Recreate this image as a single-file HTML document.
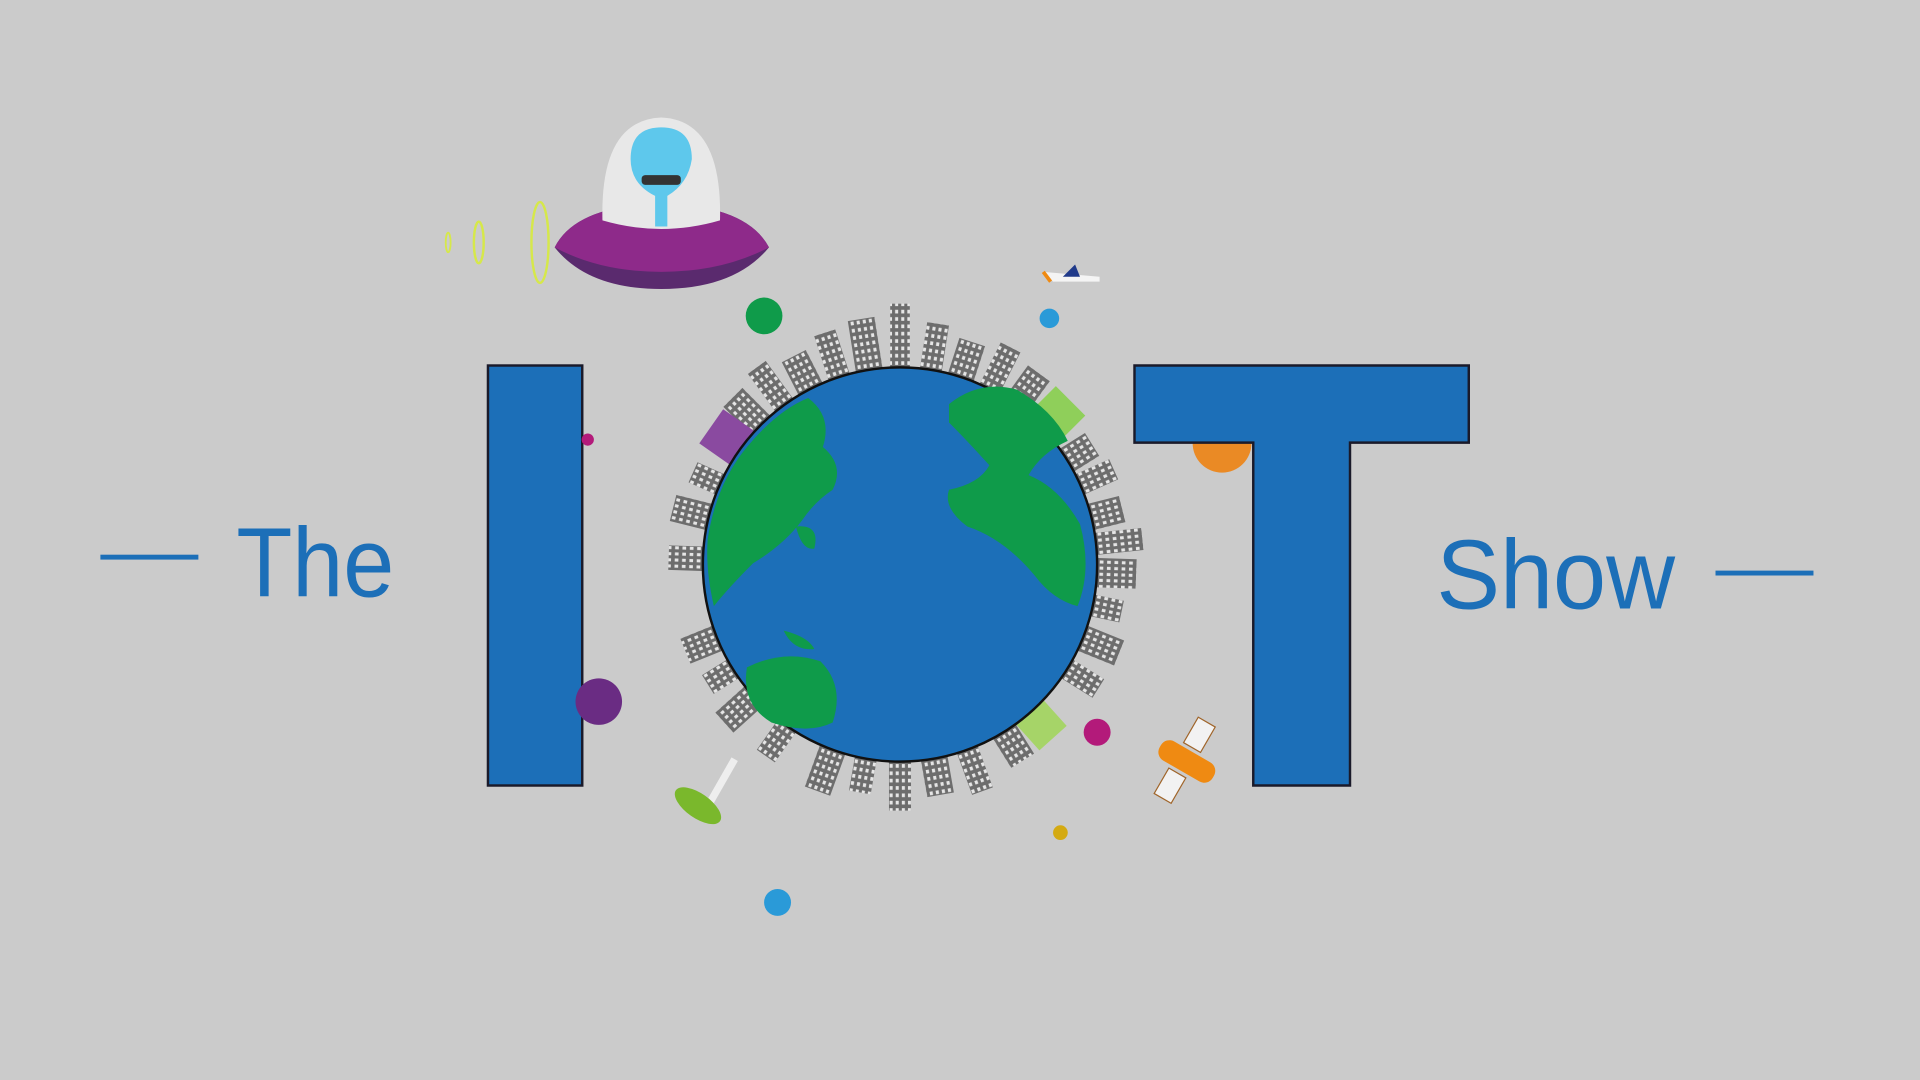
<!DOCTYPE html>
<html><head><meta charset="utf-8"><style>
html,body{margin:0;padding:0;background:#cbcbcb;width:1920px;height:1080px;overflow:hidden}
svg{display:block}
</style></head><body>
<svg width="1920" height="1080" viewBox="0 0 1568 882" preserveAspectRatio="none" xmlns="http://www.w3.org/2000/svg">
<defs>
<pattern id="win" width="5" height="6" patternUnits="userSpaceOnUse">
<rect width="5" height="6" fill="#6d6d6d"/>
<rect x="1" y="1" width="2.5" height="3" fill="#e6e6e6"/>
</pattern>
</defs>
<rect width="1568" height="882" fill="#cbcbcb"/>
<rect x="82" y="453" width="80" height="4" fill="#1c6fb8"/>
<text x="193" y="487" font-family="Liberation Sans, sans-serif" font-size="80" fill="#1c6fb8" textLength="129" lengthAdjust="spacingAndGlyphs">The</text>
<text x="1173" y="497" font-family="Liberation Sans, sans-serif" font-size="80" fill="#1c6fb8" textLength="195" lengthAdjust="spacingAndGlyphs">Show</text>
<rect x="1401" y="466" width="80" height="4" fill="#1c6fb8"/>
<circle cx="998" cy="362" r="24" fill="#ea8a25"/>
<rect x="398.5" y="298.5" width="77" height="343" fill="#1c6fb8" stroke="#1a1a2a" stroke-width="2"/>
<path d="M926.5 298.5H1199.5V361.5H1102.5V641.5H1023.5V361.5H926.5Z" fill="#1c6fb8" stroke="#1a1a2a" stroke-width="2"/>
<circle cx="624" cy="258" r="15" fill="#0f9b4a"/>
<circle cx="857" cy="260" r="8" fill="#2a9ad8"/>
<circle cx="480" cy="359" r="5" fill="#b31a7a"/>
<circle cx="489" cy="573" r="19" fill="#6a2c83"/>
<circle cx="896" cy="598" r="11" fill="#b31a7a"/>
<circle cx="866" cy="680" r="6" fill="#d4aa12"/>
<circle cx="635" cy="737" r="11" fill="#2a9ad8"/>
<g fill="url(#win)">
<rect x="727" y="248" width="16" height="57" transform="rotate(0 735 461)"/>
<rect x="724" y="258" width="22" height="45" transform="rotate(-9 735 461)"/>
<rect x="726" y="262" width="18" height="40" transform="rotate(-18 735 461)"/>
<rect x="724" y="270" width="22" height="32" transform="rotate(-27 735 461)"/>
<rect x="726" y="262" width="18" height="40" transform="rotate(-36 735 461)"/>
<rect x="724" y="268" width="22" height="34" transform="rotate(-45 735 461)"/>
<rect x="726" y="276" width="18" height="26" transform="rotate(-66 735 461)"/>
<rect x="724" y="270" width="22" height="32" transform="rotate(-76 735 461)"/>
<rect x="724" y="272" width="20" height="30" transform="rotate(-88 735 461)"/>
<rect x="724" y="272" width="22" height="30" transform="rotate(-112 735 461)"/>
<rect x="726" y="276" width="18" height="26" transform="rotate(-122 735 461)"/>
<rect x="724" y="268" width="22" height="34" transform="rotate(-132 735 461)"/>
<rect x="726" y="270" width="18" height="32" transform="rotate(-145 735 461)"/>
<rect x="724" y="264" width="22" height="38" transform="rotate(-160 735 461)"/>
<rect x="726" y="272" width="18" height="30" transform="rotate(-170 735 461)"/>
<rect x="726" y="260" width="18" height="42" transform="rotate(180 735 461)"/>
<rect x="724" y="270" width="22" height="32" transform="rotate(170 735 461)"/>
<rect x="726" y="264" width="18" height="38" transform="rotate(160 735 461)"/>
<rect x="724" y="272" width="22" height="30" transform="rotate(148 735 461)"/>
<rect x="726" y="270" width="18" height="32" transform="rotate(122 735 461)"/>
<rect x="724" y="268" width="22" height="34" transform="rotate(112 735 461)"/>
<rect x="726" y="276" width="18" height="26" transform="rotate(102 735 461)"/>
<rect x="724" y="268" width="24" height="34" transform="rotate(92 735 461)"/>
<rect x="726" y="262" width="18" height="40" transform="rotate(84 735 461)"/>
<rect x="724" y="274" width="22" height="28" transform="rotate(76 735 461)"/>
<rect x="726" y="270" width="18" height="32" transform="rotate(66 735 461)"/>
<rect x="724" y="276" width="22" height="26" transform="rotate(58 735 461)"/>
<rect x="726" y="262" width="18" height="40" transform="rotate(27 735 461)"/>
<rect x="724" y="270" width="22" height="32" transform="rotate(18 735 461)"/>
<rect x="726" y="262" width="18" height="40" transform="rotate(9 735 461)"/>
<rect x="724" y="268" width="22" height="34" transform="rotate(36 735 461)"/>
</g>
<rect x="722" y="268" width="34" height="36" fill="#8fcf5a" transform="rotate(45 735 461)"/>
<rect x="722" y="270" width="34" height="34" fill="#8a4aa0" transform="rotate(-55 735 461)"/>
<rect x="722" y="272" width="30" height="32" fill="#a6d468" transform="rotate(138 735 461)"/>
<circle cx="735" cy="461" r="161" fill="#1c6fb8" stroke="#111" stroke-width="2"/>
<g fill="#0f9b4a">
<path d="M610 365 Q635 335 660 325 Q680 340 672 365 Q690 380 680 400 Q665 410 655 425 Q640 445 615 460 Q595 480 583 495 Q576 465 578 440 Q585 395 610 365Z"/>
<path d="M650 430 Q670 428 665 448 Q655 450 650 430Z"/>
<path d="M775 330 Q800 310 830 318 Q860 335 872 360 Q850 370 840 388 Q865 398 882 428 Q892 465 880 495 Q860 490 845 470 Q820 440 790 430 Q770 415 775 400 Q800 395 808 380 Q790 360 775 345Z"/>
<path d="M610 545 Q640 530 670 540 Q690 560 680 590 Q660 600 630 590 Q605 575 610 545Z"/>
<path d="M640 515 Q660 520 665 530 Q648 532 640 515Z"/>
</g>
<path d="M600 620 L580 655" stroke="#eee" stroke-width="6"/>
<ellipse cx="570" cy="658" rx="22" ry="10" fill="#7ab82c" transform="rotate(35 570 658)"/>
<g transform="rotate(30 968 620)">
<rect x="945" y="612" width="50" height="18" rx="8" fill="#ef8a12"/>
<rect x="960" y="585" width="16" height="24" fill="#f2f2f2" stroke="#a0652a"/>
<rect x="960" y="633" width="16" height="24" fill="#f2f2f2" stroke="#a0652a"/>
</g>
<path d="M852 222 L898 226 L898 230 L860 230Z" fill="#f4f4f4"/>
<path d="M868 226 L878 216 L882 226Z" fill="#203a8a"/>
<path d="M852 222 L858 230" stroke="#ef8a12" stroke-width="3"/>
<ellipse cx="441" cy="198" rx="7" ry="33" fill="none" stroke="#d6e84a" stroke-width="2"/>
<ellipse cx="391" cy="198" rx="4" ry="17" fill="none" stroke="#d6e84a" stroke-width="2"/>
<ellipse cx="366" cy="198" rx="2" ry="8" fill="none" stroke="#d6e84a" stroke-width="1.5"/>
<path d="M453 202 Q470 168 540 166 Q610 168 628 202 Q600 236 540 236 Q480 236 453 202Z" fill="#5a2a6e"/>
<path d="M453 202 Q470 168 540 166 Q610 168 628 202 Q590 222 540 222 Q490 222 453 202Z" fill="#8e2a8a"/>
<path d="M492 180 Q490 98 540 96 Q590 98 588 180 Q540 194 492 180Z" fill="#e8e8e8"/>
<path d="M515 130 Q515 104 540 104 Q565 104 565 130 Q562 150 545 160 L545 185 L535 185 L535 160 Q515 150 515 130Z" fill="#5ec8ec"/>
<rect x="524" y="143" width="32" height="8" rx="3" fill="#333"/>
</svg>
</body></html>
